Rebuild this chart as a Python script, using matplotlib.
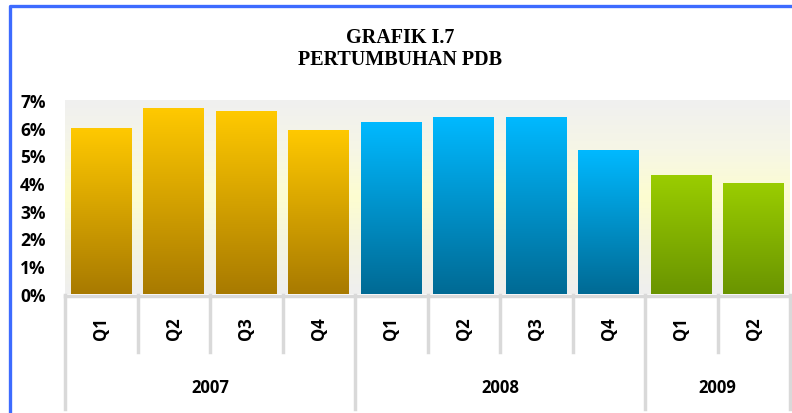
import numpy as np
import matplotlib
matplotlib.use("Agg")
import matplotlib.pyplot as plt
from matplotlib.colors import LinearSegmentedColormap
from matplotlib.lines import Line2D

# data
years = ["2007", "2008", "2009"]
quarters = ["Q1", "Q2", "Q3", "Q4", "Q1", "Q2", "Q3", "Q4", "Q1", "Q2"]
year_of_bar = [0, 0, 0, 0, 1, 1, 1, 1, 2, 2]
growth = [6.0, 6.7, 6.6, 5.9, 6.2, 6.4, 6.4, 5.2, 4.3, 4.0]
yticks = [0, 1, 2, 3, 4, 5, 6, 7]

# top / bottom gradient colours per year
year_colors = [("#ffc900", "#a87a00"), ("#00b9ff", "#006a94"), ("#9acd00", "#6a9400")]

W, H = 792, 414
fig = plt.figure(figsize=(W / 100, H / 100), dpi=100)

x0, x1 = 65, 790
ytop, ybot = 101, 294.5
ax = fig.add_axes([x0 / W, 1 - ybot / H, (x1 - x0) / W, (ybot - ytop) / H])
n = len(growth)
ax.set_xlim(-0.5, n - 0.5)
ax.set_ylim(0, 7)

# plot area background gradient: grey -> light yellow -> grey
bg = LinearSegmentedColormap.from_list("bg", ["#f0f0f0", "#f6f6e6", "#fdfdd0", "#f4f4e0", "#efefef"])
ax.imshow(np.linspace(0, 1, 256).reshape(-1, 1), cmap=bg, aspect="auto",
          extent=(-0.5, n - 0.5, 0, 7), origin="upper", zorder=0)

bars = ax.bar(np.arange(n), growth, width=0.84, zorder=1)
for b, yi in zip(bars, year_of_bar):
    top, bot = year_colors[yi]
    cm = LinearSegmentedColormap.from_list("g%d" % yi, [top, bot])
    bx, by = b.get_x(), b.get_y()
    ax.imshow(np.linspace(0, 1, 256).reshape(-1, 1), cmap=cm, aspect="auto",
              extent=(bx, bx + b.get_width(), by, by + b.get_height()),
              origin="upper", zorder=2)
    b.set_visible(False)
ax.set_xlim(-0.5, n - 0.5)
ax.set_ylim(0, 7)

for s in ax.spines.values():
    s.set_visible(False)
ax.set_xticks([])
ax.set_yticks(yticks)
ax.set_yticklabels(["%d%%" % v for v in yticks], fontsize=12.5, fontweight="bold",
                   family="Open Sans")
ax.tick_params(axis="y", length=0, pad=14)

# category axis below the plot
cax = fig.add_axes([x0 / W, 0, (x1 - x0) / W, (H - 296) / H])
cax.set_xlim(-0.5, n - 0.5)
cax.set_ylim(H - 296, 0)
cax.axis("off")
gray = "#d9d9d9"
cax.plot([-0.5, n - 0.5], [1, 1], color=gray, lw=2.5, clip_on=False)
year_bounds = [-0.5]
for i in range(1, n):
    if year_of_bar[i] != year_of_bar[i - 1]:
        year_bounds.append(i - 0.5)
year_bounds.append(n - 0.5)
for i in range(n + 1):
    xb = i - 0.5
    y_end = 114 if xb in year_bounds else 57
    cax.plot([xb, xb], [0, y_end], color=gray, lw=2.5, clip_on=False)
for i, q in enumerate(quarters):
    cax.text(i, 33, q, rotation=90, ha="center", va="center", fontsize=12,
             fontweight="bold", family="Open Sans")
for k, yr in enumerate(years):
    cax.text((year_bounds[k] + year_bounds[k + 1]) / 2, 92, yr, ha="center", va="center",
             fontsize=12, fontweight="bold", family="Open Sans")

# title
fig.text(400 / W, 1 - 38 / H, "GRAFIK I.7", ha="center", va="center", fontsize=14.5,
         fontweight="bold", family="Liberation Serif")
fig.text(400 / W, 1 - 60 / H, "PERTUMBUHAN PDB", ha="center", va="center", fontsize=14.5,
         fontweight="bold", family="Liberation Serif")

# blue frame (left and top edges visible)
fig.add_artist(Line2D([10 / W, 10 / W, 1.0], [0, 1 - 7 / H, 1 - 7 / H],
                      transform=fig.transFigure, color="#3d6bff", lw=2.4))

fig.savefig("out.png", dpi=100)
